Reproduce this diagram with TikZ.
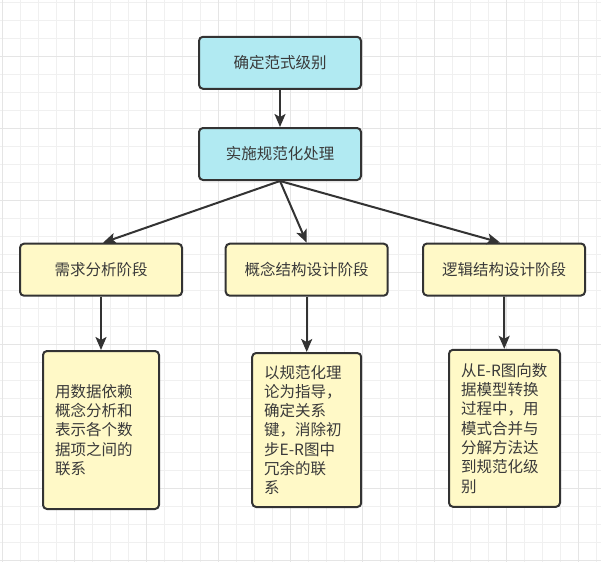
\documentclass[tikz,border=0pt]{standalone}
\usepackage{fontspec}
\setmainfont{Noto Sans CJK SC}
\usetikzlibrary{arrows.meta}
\definecolor{gridminor}{RGB}{240,240,240}
\definecolor{gridmajor}{RGB}{229,229,229}
\definecolor{boxblue}{RGB}{177,234,242}
\definecolor{boxyellow}{RGB}{255,249,199}
\definecolor{edge}{RGB}{51,51,51}
\definecolor{txt}{RGB}{58,58,58}
\tikzset{
  box/.style={draw=edge, line width=2pt, rounded corners=4pt, text=txt,
    font=\fontsize{15.5pt}{19.3pt}\selectfont, inner sep=0pt},
  bluebox/.style={box, fill=boxblue, minimum width=162pt, minimum height=52pt},
  stagebox/.style={box, fill=boxyellow, minimum width=162pt, minimum height=52pt},
  notebox/.style={box, fill=boxyellow, align=left, inner xsep=12pt, inner ysep=0pt},
  arr/.style={draw=edge, line width=2pt, -{Stealth[length=13pt, width=11pt, inset=3pt]}},
}
\begin{document}
\begin{tikzpicture}[x=1pt, y=-1pt]
\useasboundingbox (0,0) rectangle (601,562);
\fill[white] (0,0) rectangle (601,562);
% grid
\foreach \i in {0,...,33} {
  \draw[gridminor, line width=1pt] ({2.7+18*\i},0) -- ({2.7+18*\i},562);
}
\foreach \i in {0,...,31} {
  \draw[gridminor, line width=1pt] (0,{2.7+18*\i}) -- (601,{2.7+18*\i});
}
\foreach \i in {0,...,7} {
  \draw[gridmajor, line width=1pt] ({2.7+72*\i},0) -- ({2.7+72*\i},562);
  \draw[gridmajor, line width=1pt] (0,{56.7+72*\i}) -- (601,{56.7+72*\i});
}
\foreach \i in {0,...,8} {
  \draw[gridmajor, line width=1pt] ({74.7+72*\i},0) -- ({74.7+72*\i},562);
}
% nodes
\node[bluebox] (top) at (280,62.8) {确定范式级别};
\node[bluebox] (impl) at (280,154) {实施规范化处理};
\node[stagebox] (req) at (101,269.7) {需求分析阶段};
\node[stagebox] (con) at (306.7,269.7) {概念结构设计阶段};
\node[stagebox] (log) at (504,269.5) {逻辑结构设计阶段};
\node[notebox, text width=92pt, minimum height=158pt] (reqn) at (101,430)
  {用数据依赖\\概念分析和\\表示各个数\\据项之间的\\联系};
\node[notebox, text width=85pt, minimum height=154pt] (conn) at (306.7,430)
  {以规范化理\\论为指导，\\确定关系\\键，消除初\\步E-R图中\\冗余的联\\系};
\node[notebox, text width=87pt, minimum height=157pt] (logn) at (504.5,428.3)
  {从E-R图向数\\据模型转换\\过程中，用\\模式合并与\\分解方法达\\到规范化级\\别};
% connectors
\draw[arr] (top) -- (impl);
\draw[arr] (impl.south) -- ([xshift=2pt]req.north);
\draw[arr] (impl.south) -- (con.north);
\draw[arr] (impl.south) -- ([xshift=-4pt]log.north);
\draw[arr] (req) -- (reqn);
\draw[arr] (con) -- (conn);
\draw[arr] (log) -- (logn);
\end{tikzpicture}
\end{document}
